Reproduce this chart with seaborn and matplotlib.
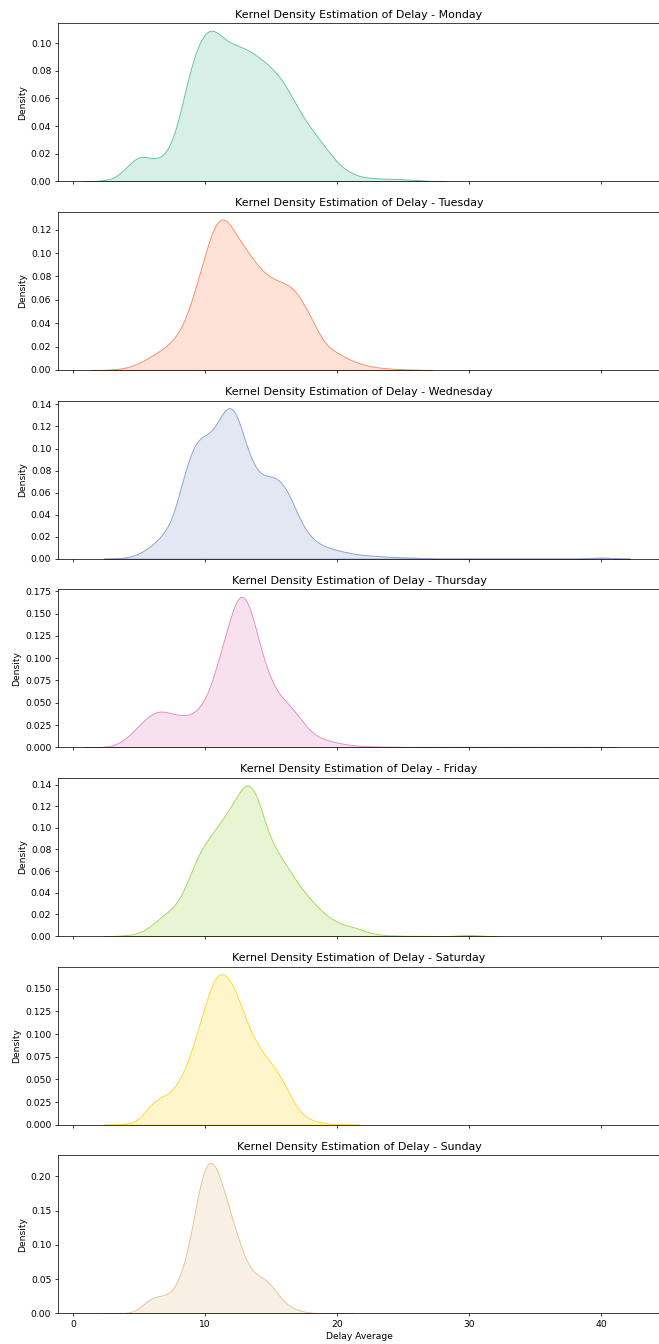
import numpy as np
import pandas as pd
import matplotlib
matplotlib.use("Agg")
import matplotlib.pyplot as plt
import seaborn as sns

# ---------------- data (delay values and their relative frequencies) ----------------
days = ["Monday", "Tuesday", "Wednesday", "Thursday", "Friday", "Saturday", "Sunday"]

delay_grid = [2.0, 2.5, 3.0, 3.5, 4.0, 4.5, 5.0, 5.5, 6.0, 6.5,
              7.0, 7.5, 8.0, 8.5, 9.0, 9.5, 10.0, 10.5, 11.0, 11.5,
              12.0, 12.5, 13.0, 13.5, 14.0, 14.5, 15.0, 15.5, 16.0, 16.5,
              17.0, 17.5, 18.0, 18.5, 19.0, 19.5, 20.0, 20.5, 21.0, 21.5,
              22.0, 22.5, 23.0, 23.5, 24.0, 24.5, 25.0]

monday_weight = [0.5, 1, 2, 5, 10, 15, 18.8, 18, 16.5, 16.5,
                 20, 29, 45, 67, 87, 101, 110, 112, 109, 104,
                 101, 99.5, 97.5, 95, 91.5, 88, 83.5, 78.5, 72, 63,
                 54.5, 46, 39, 33, 26, 20, 14, 9.5, 6.5, 4.3,
                 3, 2.5, 2.2, 2, 1.8, 1.7, 1.5]
monday_tail_delay = [25.5, 26.0, 26.5, 27.0]
monday_tail_weight = [1.2, 1.0, 0.6, 0.3]

tuesday_weight = [0, 0.2, 0.5, 1, 2, 3.5, 6, 9, 12.5, 16,
                  19.5, 25, 32, 43, 60, 79, 99, 119, 130, 131,
                  123, 113, 105, 97, 89, 83, 79, 76.5, 74.5, 71.5,
                  65.5, 56, 45.5, 34, 23.5, 18, 15, 11.5, 8.5, 6.6,
                  4.5, 3.2, 2.3, 1.6, 1.2, 0.9, 0.6]
tuesday_tail_delay = [25.5, 26.0]
tuesday_tail_weight = [0.4, 0.3]

wednesday_weight = [0, 0, 0, 0.3, 1, 2.3, 4.5, 8, 12.5, 18,
                    25, 35, 57, 80, 99, 109, 111.5, 114, 124, 136,
                    140, 128, 107, 89, 78, 74.5, 74.5, 73, 66, 55,
                    40, 28, 19.5, 14.6, 11.5, 9.3, 7.7, 6.3, 5, 4,
                    3.3, 2.8, 2.4, 2, 1.6, 1.3, 1.1]
wednesday_tail_delay = [25.5, 26.0, 26.5, 27.0, 39.0, 39.5, 40.0, 40.5, 41.0]
wednesday_tail_weight = [1.0, 0.8, 0.5, 0.3, 0.3, 0.8, 1.2, 0.8, 0.3]

thursday_weight = [0.3, 0.8, 2, 5, 10.5, 18, 26, 34, 40, 43,
                   42, 39.5, 38, 37.3, 39, 45, 56, 75, 103, 129,
                   158, 181, 181, 161, 129, 100, 79, 64, 56, 48,
                   38, 28, 18.5, 13, 9.5, 7.5, 5.5, 4, 2.8, 2,
                   1.5, 1.2, 1, 0.9, 0.8, 0.8, 0.7]
thursday_tail_delay = [26, 27, 28, 29, 30, 31, 32, 33, 34, 35, 36, 37, 38, 39, 40]
thursday_tail_weight = [1.2, 1.2, 1.2, 1.2, 1.2, 1.2, 1.2, 1.2, 1.2, 1.2, 1.2, 1.2, 1.2, 1.2, 1.0]

friday_weight = [0, 0, 0, 0.3, 0.8, 1.5, 3, 6, 10.5, 16,
                 21, 25.5, 33, 45, 61, 76, 86, 94, 103, 111,
                 121, 131, 142, 141, 128, 107, 88, 78, 68, 59,
                 49, 41, 34, 27, 21, 16.5, 13, 10.5, 9, 7.5,
                 5, 3, 1.7, 1, 0.6, 0.5, 0.4]
friday_tail_delay = [26.0, 27.0, 29.0, 29.5, 30.0, 30.5, 31.0]
friday_tail_weight = [0.3, 0.2, 0.3, 0.8, 1.0, 0.8, 0.3]

saturday_weight = [0, 0, 0, 0.3, 1, 2.5, 6, 16, 25, 31,
                   33.5, 38, 50, 64, 85, 111, 136, 162, 174, 173,
                   163, 145, 124, 104, 91, 80, 69.5, 61, 47, 31,
                   18.5, 10, 5.5, 3.7, 2, 1, 0.5, 0.2, 0, 0,
                   0, 0, 0, 0, 0, 0, 0]
saturday_tail_delay = []
saturday_tail_weight = []

sunday_weight = [0, 0, 0, 0.2, 0.5, 2, 7, 18, 24, 26.5,
                 27.5, 32, 50, 80, 126, 188, 228, 236, 216, 181,
                 147, 114, 83, 65, 57, 53, 44, 29, 17, 9.5,
                 5, 2.5, 1, 0.6, 0.4, 0.3, 0.2, 0, 0, 0,
                 0, 0, 0, 0, 0, 0, 0]
sunday_tail_delay = []
sunday_tail_weight = []

day_weights = {
    "Monday": (monday_weight, monday_tail_delay, monday_tail_weight),
    "Tuesday": (tuesday_weight, tuesday_tail_delay, tuesday_tail_weight),
    "Wednesday": (wednesday_weight, wednesday_tail_delay, wednesday_tail_weight),
    "Thursday": (thursday_weight, thursday_tail_delay, thursday_tail_weight),
    "Friday": (friday_weight, friday_tail_delay, friday_tail_weight),
    "Saturday": (saturday_weight, saturday_tail_delay, saturday_tail_weight),
    "Sunday": (sunday_weight, sunday_tail_delay, sunday_tail_weight),
}

# ---------------- style ----------------
KERNEL_BW = 0.4
colors = sns.color_palette("Set2", len(days))

fig, axes = plt.subplots(len(days), 1, figsize=(10, 20.395), sharex=True)
fig.subplots_adjust(left=0.0876, right=1.002, top=0.9827, bottom=0.0228, hspace=0.194)

for ax, day, color in zip(axes, days, colors):
    w, td, tw = day_weights[day]
    df = pd.DataFrame({
        "Delay Average": list(delay_grid) + list(td),
        "weight": list(w) + list(tw),
    })
    df = df[df["weight"] > 0]
    sns.kdeplot(
        data=df, x="Delay Average", weights="weight",
        bw_method=lambda k: KERNEL_BW / float(np.sqrt(np.cov(k.dataset, aweights=k.weights))),
        fill=True, color=color, gridsize=600, ax=ax,
    )
    ax.set_title(f"Kernel Density Estimation of Delay - {day}")
    ax.set_ylabel("Density")
    ax.set_xlabel("")

axes[-1].set_xlabel("Delay Average")
axes[-1].set_xlim(-1.18, 44.5)
axes[-1].set_xticks([0, 10, 20, 30, 40])

fig.savefig("out.png", dpi=65.9)
